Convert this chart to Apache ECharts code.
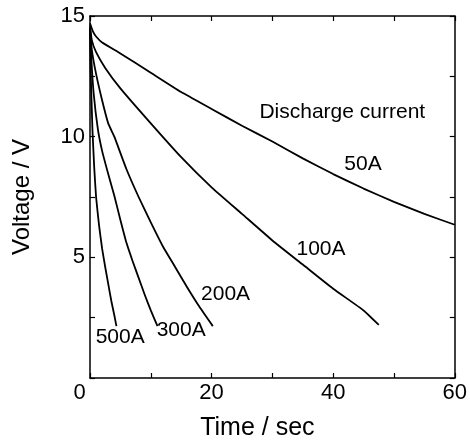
<!DOCTYPE html>
<html>
<head>
<meta charset="utf-8">
<script src="https://cdn.jsdelivr.net/npm/echarts@6/dist/echarts.min.js"></script>
<style>
html,body{margin:0;padding:0;background:#fff;}
#chart{width:470px;height:446px;}
</style>
</head>
<body>
<div id="chart"></div>
<script>
// ---- data ----
var t50  = [0, 0.5, 1, 2, 5, 10, 15, 20, 25, 30, 35, 40, 45, 50, 55, 60];
var v50  = [14.7, 14.35, 14.15, 13.9, 13.45, 12.65, 11.85, 11.15, 10.45, 9.8, 9.1, 8.45, 7.85, 7.3, 6.8, 6.35];
var t100 = [0, 0.3, 1, 2.5, 5, 10, 15, 20, 25, 30, 35, 40, 45, 47.5];
var v100 = [14.6, 14.0, 13.5, 12.85, 12.0, 10.55, 9.15, 7.9, 6.8, 5.7, 4.7, 3.7, 2.8, 2.2];
var t200 = [0, 0.3, 1, 2, 3, 4, 6, 8, 10, 12, 14, 16, 18, 20.2];
var v200 = [14.5, 13.6, 12.6, 11.5, 10.55, 10.0, 8.65, 7.5, 6.45, 5.45, 4.6, 3.75, 2.95, 2.15];
var t300 = [0, 0.2, 0.6, 1.3, 2, 3, 4, 5, 6, 7, 8, 9, 10, 11.1];
var v300 = [14.5, 13.3, 11.8, 10.3, 9.4, 8.45, 7.55, 6.55, 5.6, 4.85, 4.15, 3.45, 2.8, 2.15];
var t500 = [0, 0.1, 0.4, 0.7, 1.0, 1.5, 2, 2.5, 3, 3.5, 4, 4.35];
var v500 = [14.5, 12.8, 10.3, 8.7, 7.5, 6.3, 5.35, 4.6, 3.9, 3.2, 2.6, 2.15];

var labelNames = ['Discharge current', '50A', '100A', '200A', '300A', '500A'];
var labelT     = [41.5, 44.9, 38.0, 22.3, 15.0, 4.97];
var labelV     = [11.0, 8.87, 5.34, 3.46, 1.97, 1.68];

var xTickLabels = [0, 20, 40, 60];
var yTickLabels = [5, 10, 15];
// --------------------------------------

function pairs(t, v) { return t.map(function (x, i) { return [x, v[i]]; }); }

var FONT = 'Liberation Sans, Arial, Helvetica, sans-serif';
var BLACK = '#000';

function lineSeries(name, t, v) {
  return {
    name: name, type: 'line', data: pairs(t, v),
    showSymbol: false, symbol: 'none', smooth: 0.15,
    lineStyle: { color: BLACK, width: 1.8, join: 'round' }, z: 3
  };
}

var axisCommonX = {
  type: 'value', min: 0, max: 60, interval: 10,
  axisLine: { show: true, onZero: false, lineStyle: { color: BLACK, width: 1.5 } },
  axisTick: { show: true, inside: true, length: 5, lineStyle: { color: BLACK, width: 1.2 } },
  splitLine: { show: false }
};
var axisCommonY = {
  type: 'value', min: 0, max: 15, interval: 2.5,
  axisLine: { show: true, onZero: false, lineStyle: { color: BLACK, width: 1.5 } },
  axisTick: { show: true, inside: true, length: 5, lineStyle: { color: BLACK, width: 1.2 } },
  splitLine: { show: false }
};

var option = {
  animation: false,
  backgroundColor: '#fff',
  grid: { left: 90, right: 15, top: 16, bottom: 64, containLabel: false },
  xAxis: [
    Object.assign({}, axisCommonX, {
      position: 'bottom',
      name: 'Time / sec', nameLocation: 'middle', nameGap: 38,
      nameTextStyle: { fontSize: 25, color: BLACK, fontFamily: FONT, padding: [0, 30, 0, 0] },
      axisLabel: {
        show: true, margin: 4, fontSize: 22, color: BLACK, fontFamily: FONT,
        showMinLabel: true, showMaxLabel: true,
        formatter: function (val) {
          if (xTickLabels.indexOf(val) < 0) return '';
          if (val === 0) return '{o|0}';
          return String(val);
        },
        rich: { o: { fontSize: 22, color: BLACK, fontFamily: FONT, padding: [0, 21, 0, 0] } }
      }
    }),
    Object.assign({}, axisCommonX, { position: 'top', axisLabel: { show: false } })
  ],
  yAxis: [
    Object.assign({}, axisCommonY, {
      position: 'left',
      name: 'Voltage / V', nameLocation: 'middle', nameGap: 56,
      nameTextStyle: { fontSize: 24, color: BLACK, fontFamily: FONT },
      axisLabel: {
        show: true, margin: 5, fontSize: 22, color: BLACK, fontFamily: FONT,
        showMinLabel: true, showMaxLabel: true,
        formatter: function (val) {
          return yTickLabels.indexOf(val) >= 0 ? String(val) : '';
        }
      }
    }),
    Object.assign({}, axisCommonY, { position: 'right', axisLabel: { show: false } })
  ],
  series: [
    lineSeries('50A', t50, v50),
    lineSeries('100A', t100, v100),
    lineSeries('200A', t200, v200),
    lineSeries('300A', t300, v300),
    lineSeries('500A', t500, v500),
    {
      name: 'labels', type: 'custom',
      data: labelNames.map(function (n, i) { return [labelT[i], labelV[i], i]; }),
      renderItem: function (params, api) {
        var p = api.coord([api.value(0), api.value(1)]);
        return {
          type: 'text',
          style: {
            text: labelNames[api.value(2)], x: p[0], y: p[1],
            fill: BLACK, font: '21px ' + FONT, align: 'center', verticalAlign: 'middle'
          }
        };
      },
      silent: true,
      z: 5
    }
  ]
};

var chart = echarts.init(document.getElementById('chart'), null, { renderer: 'canvas' });
chart.setOption(option);
</script>
</body>
</html>
